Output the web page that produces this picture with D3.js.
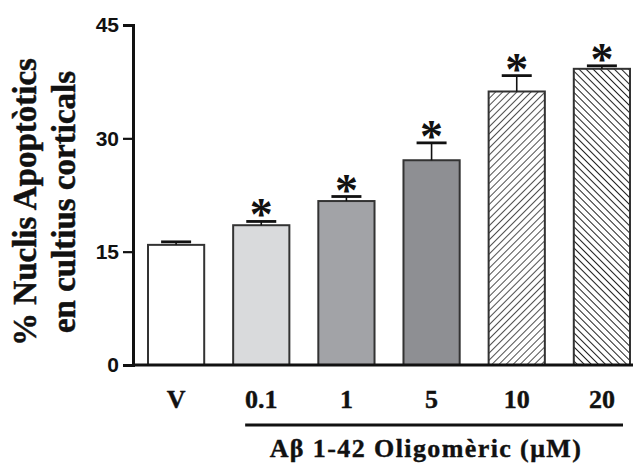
<!DOCTYPE html>
<html><head><meta charset="utf-8">
<script src="https://cdn.jsdelivr.net/npm/d3@7"></script>
<style>body{margin:0;background:#fff}</style>
</head><body>
<svg id="c" width="634" height="465"></svg>
<script>
const categories = ["V","0.1","1","5","10","20"];
const values = [15.9, 18.5, 21.7, 27.1, 36.2, 39.2];
const errors = [0.4, 0.5, 0.6, 2.3, 2.1, 0.4];
const significant = [false, true, true, true, true, true];
const fills = ["#ffffff","#d9dadc","#a2a3a7","#8e8f93","url(#hatchA)","url(#hatchB)"];
const yTicks = [0, 15, 30, 45];
const yLabelLines = ["% Nuclis Apoptòtics", "en cultius corticals"];
const xTitle = "Aβ 1-42 Oligomèric (μM)";

const svg = d3.select("#c");
const defs = svg.append("defs");
function hatch(id, angle, w, sw){
  const p = defs.append("pattern").attr("id", id).attr("patternUnits","userSpaceOnUse")
    .attr("width", w).attr("height", w).attr("patternTransform", `rotate(${angle})`);
  p.append("rect").attr("width", w).attr("height", w).attr("fill","#fff");
  p.append("line").attr("x1",0).attr("y1",0).attr("x2",0).attr("y2",w)
    .attr("stroke","#222").attr("stroke-width",sw);
}
hatch("hatchA", 45, 5, 1.6);
hatch("hatchB", -45, 5, 2);

const y = d3.scaleLinear().domain([0,45]).range([365,25]);
const x = d3.scaleBand().domain(categories).range([148,630]).paddingInner(0.34).paddingOuter(0);

const serif = "Liberation Serif, Times New Roman, serif";

// bars
svg.append("g").selectAll("rect").data(categories).join("rect")
  .attr("x", d => x(d)).attr("width", x.bandwidth())
  .attr("y", (d,i) => y(values[i])).attr("height", (d,i) => y(0) - y(values[i]))
  .attr("fill", (d,i) => fills[i]).attr("stroke","#333").attr("stroke-width",2);

// error bars
const eb = svg.append("g").attr("stroke","#111");
categories.forEach((d,i) => {
  const cx = x(d) + x.bandwidth()/2;
  eb.append("line").attr("x1",cx).attr("x2",cx).attr("y1",y(values[i])).attr("y2",y(values[i]+errors[i])).attr("stroke-width",1.6);
  eb.append("line").attr("x1",cx-15).attr("x2",cx+15).attr("y1",y(values[i]+errors[i])).attr("y2",y(values[i]+errors[i])).attr("stroke-width",2.8);
  if (significant[i]) {
    svg.append("text").attr("x",cx).attr("y",y(values[i]+errors[i]) + 9)
      .attr("text-anchor","middle").attr("font-family",serif)
      .attr("font-weight","bold").attr("font-size",46).attr("fill","#111").text("*");
  }
});

// y axis
const ya = svg.append("g").attr("transform","translate(133,0)")
  .call(d3.axisLeft(y).tickValues(yTicks).tickSize(10).tickPadding(4));
ya.select(".domain").attr("stroke","#111").attr("stroke-width",3);
ya.selectAll(".tick line").attr("stroke","#111").attr("stroke-width",2.2);
ya.selectAll(".tick text").attr("font-family","Liberation Sans, Arial, sans-serif").attr("font-weight","bold")
  .attr("font-size",21).attr("fill","#111");

// x axis line
svg.append("line").attr("x1",132).attr("x2",633).attr("y1",y(0)).attr("y2",y(0))
  .attr("stroke","#111").attr("stroke-width",3);

// x tick labels
svg.append("g").selectAll("text").data(categories).join("text")
  .attr("x", d => x(d) + x.bandwidth()/2).attr("y", 408)
  .attr("text-anchor","middle").attr("font-family",serif).attr("font-weight","bold")
  .attr("font-size",26).attr("fill","#111").attr("stroke","#111").attr("stroke-width",0.4)
  .text(d => d);

// group line and title
svg.append("line").attr("x1", x("0.1")+12).attr("x2", x("20")+x.bandwidth()-7)
  .attr("y1",425).attr("y2",425).attr("stroke","#111").attr("stroke-width",3);
svg.append("text").attr("x", 426).attr("y", 457).attr("text-anchor","middle")
  .attr("font-family",serif).attr("font-weight","bold").attr("font-size",26)
  .attr("letter-spacing",1.4)
  .attr("fill","#111").attr("stroke","#111").attr("stroke-width",0.4).text(xTitle);

// y label
svg.append("text").attr("transform","translate(0,202) rotate(-90)")
  .attr("text-anchor","middle").attr("font-family",serif).attr("font-weight","bold")
  .attr("font-size",33).attr("fill","#111").attr("stroke","#111").attr("stroke-width",0.5)
  .selectAll("tspan").data(yLabelLines).join("tspan")
  .attr("x",0).attr("y",(d,i) => i === 0 ? 36 : 75).text(d => d);
</script>
</body></html>
